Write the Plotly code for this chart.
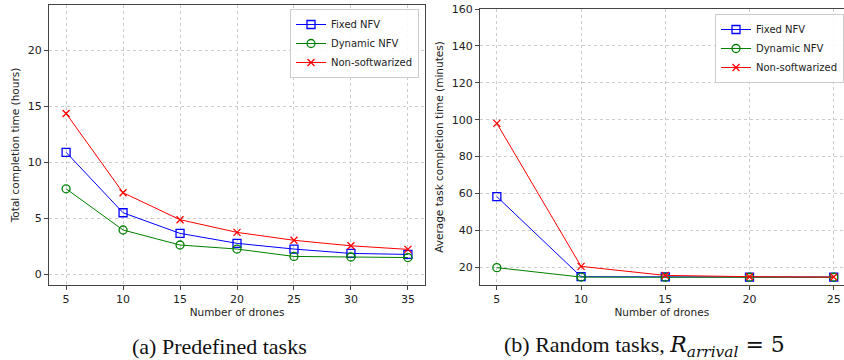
import plotly.graph_objects as go

# ---- data ----
drones_a = [5, 10, 15, 20, 25, 30, 35]
fixed_a = [10.9, 5.5, 3.66, 2.77, 2.26, 1.87, 1.78]
dynamic_a = [7.64, 3.96, 2.62, 2.26, 1.6, 1.55, 1.5]
nonsoft_a = [14.37, 7.29, 4.88, 3.75, 3.04, 2.55, 2.23]

drones_b = [5, 10, 15, 20, 25]
fixed_b = [58.3, 14.9, 14.8, 14.7, 14.7]
dynamic_b = [19.8, 14.7, 14.6, 14.6, 14.6]
nonsoft_b = [98.0, 20.5, 15.6, 14.9, 14.7]

series_names = ["Fixed NFV", "Dynamic NFV", "Non-softwarized"]
colors = ["#0000ff", "#008000", "#ff0000"]
symbols = ["square-open", "circle-open", "x-thin-open"]

W, H = 844, 360
fig = go.Figure()

def add(xs, ys, i, xa, ya, leg):
    fig.add_trace(go.Scatter(
        x=xs, y=ys, mode="lines+markers", name=series_names[i],
        xaxis=xa, yaxis=ya, legend=leg,
        line=dict(color=colors[i], width=1),
        marker=dict(symbol=symbols[i], size=8 if i != 2 else 7,
                    color=colors[i], line=dict(color=colors[i], width=1.3)),
    ))

for i, ys in enumerate([fixed_a, dynamic_a, nonsoft_a]):
    add(drones_a, ys, i, "x", "y", "legend")
for i, ys in enumerate([fixed_b, dynamic_b, nonsoft_b]):
    add(drones_b, ys, i, "x2", "y2", "legend2")

tickfont = dict(family="DejaVu Sans", size=11, color="#222")
titlefont = dict(family="DejaVu Sans", size=10.5, color="#222")
legfont = dict(family="DejaVu Sans", size=10, color="#222")
common_axis = dict(showline=True, linecolor="#444", linewidth=1, mirror=True,
                   ticks="outside", ticklen=4, tickcolor="#444", automargin=False,
                   showgrid=True, gridcolor="#cccccc", griddash="dot", gridwidth=1,
                   zeroline=False, tickfont=tickfont)

fig.update_layout(
    width=W, height=H,
    margin=dict(l=0, r=0, t=0, b=0, autoexpand=False),
    paper_bgcolor="white", plot_bgcolor="white",
    xaxis=dict(common_axis, domain=[49/W, 425/W], range=[3.5, 36.5],
               tickvals=drones_a, anchor="y",
               title=dict(text="Number of drones", font=titlefont, standoff=2)),
    yaxis=dict(common_axis, domain=[(H-285)/H, (H-5)/H], range=[-0.95, 24.05],
               tickvals=[0, 5, 10, 15, 20], anchor="x",
               title=dict(text="Total completion time (hours)", font=titlefont, standoff=6)),
    xaxis2=dict(common_axis, domain=[480/W, 843.5/W], range=[4, 25.58],
                tickvals=drones_b, anchor="y2",
                title=dict(text="Number of drones", font=titlefont, standoff=2)),
    yaxis2=dict(common_axis, domain=[(H-285)/H, (H-9)/H], range=[10.4, 160],
                tickvals=[20, 40, 60, 80, 100, 120, 140, 160], anchor="x2",
                title=dict(text="Average task completion time (minutes)", font=titlefont, standoff=6)),
    legend=dict(x=419/W, y=(H-9)/H, xanchor="right", yanchor="top",
                bgcolor="rgba(255,255,255,0.85)", bordercolor="#ccc", borderwidth=1,
                font=legfont, tracegroupgap=0, itemwidth=30),
    legend2=dict(x=1.0, y=(H-14)/H, xanchor="right", yanchor="top",
                 bgcolor="rgba(255,255,255,0.85)", bordercolor="#ccc", borderwidth=1,
                 font=legfont, tracegroupgap=0, itemwidth=30),
    annotations=[
        dict(text="(a) Predefined tasks", x=219/W, y=(H-346)/H, xref="paper", yref="paper",
             xanchor="center", yanchor="middle", showarrow=False,
             font=dict(family="Liberation Serif", size=22, color="#111")),
        dict(text="(b) Random tasks, <span style='font-family:DejaVu Serif'><i>R</i>"
                  "<sub><i>arrival</i></sub> = 5</span>",
             x=644/W, y=(H-346)/H,
             xref="paper", yref="paper", xanchor="center", yanchor="middle", showarrow=False,
             font=dict(family="Liberation Serif", size=22, color="#111")),
    ],
)

fig.write_html("out.html", config={"displayModeBar": False},
               post_script="document.body.style.margin='0';")
